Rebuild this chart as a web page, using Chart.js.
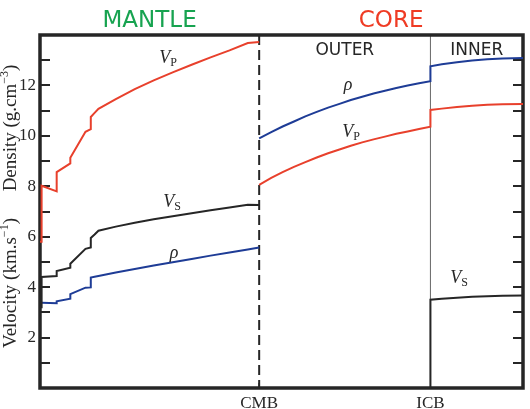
<!DOCTYPE html>
<html>
<head>
<meta charset="utf-8">
<title>PREM</title>
<script src="https://cdn.jsdelivr.net/npm/chart.js@4.4.1/dist/chart.umd.min.js"></script>
<style>
  html, body { margin: 0; padding: 0; background: #fff; }
  #chartContainer { width: 530px; height: 409px; }
</style>
</head>
<body>
<div id="chartContainer"><canvas id="premChart" width="530" height="409"></canvas></div>
<script>
// Boundaries (depth in km)
const boundaryDepths = [2891, 5150];
const boundaryNames = ['CMB', 'ICB'];
const earthRadius = 6371;

// Crust + mantle (density is only drawn from the Moho down)
const mantleDepth = [0, 15, 15, 24.4, 24.4, 220, 220, 400, 400, 600, 670, 670, 720, 771, 1000, 1250, 1500, 1750, 2000, 2250, 2500, 2741, 2891];
const mantleVp = [5.80, 5.80, 6.80, 6.80, 8.02, 7.80, 8.56, 8.91, 9.13, 10.16, 10.27, 10.75, 10.91, 11.07, 11.46, 11.85, 12.20, 12.52, 12.82, 13.11, 13.39, 13.68, 13.72];
const mantleVs = [3.20, 3.20, 3.90, 3.90, 4.40, 4.44, 4.64, 4.77, 4.93, 5.52, 5.57, 5.95, 6.09, 6.24, 6.40, 6.55, 6.69, 6.81, 6.93, 7.05, 7.16, 7.27, 7.26];
const mantleRho = [null, null, null, null, 3.38, 3.36, 3.44, 3.54, 3.72, 3.98, 3.99, 4.38, 4.41, 4.44, 4.58, 4.72, 4.86, 4.99, 5.12, 5.25, 5.37, 5.49, 5.57];

// Outer + inner core
const coreDepth = [2891, 3050, 3200, 3350, 3500, 3650, 3800, 3950, 4100, 4250, 4400, 4550, 4700, 4850, 5000, 5150, 5150, 5300, 5500, 5700, 5900, 6100, 6371];
const coreVp = [8.06, 8.33, 8.56, 8.77, 8.96, 9.14, 9.31, 9.46, 9.61, 9.74, 9.86, 9.97, 10.08, 10.17, 10.27, 10.36, 11.03, 11.08, 11.14, 11.19, 11.23, 11.25, 11.26];
const coreRho = [9.90, 10.15, 10.37, 10.57, 10.77, 10.95, 11.12, 11.27, 11.42, 11.55, 11.68, 11.79, 11.90, 12.00, 12.09, 12.17, 12.76, 12.84, 12.92, 12.99, 13.04, 13.07, 13.09];
const coreVs = [0, 0, 0, 0, 0, 0, 0, 0, 0, 0, 0, 0, 0, 0, 0, 0, 3.50, 3.54, 3.58, 3.62, 3.64, 3.66, 3.67];

// Y axis
const yMin = 0;
const yMax = 14;

// Curve labels: [main, subscript, depth, value]
const curveLabels = [
  ['V', 'P', 1688, 12.89],
  ['ρ', '', 4063, 11.82],
  ['V', 'P', 4102, 9.95],
  ['V', 'S', 1741, 7.18],
  ['ρ', '', 1767, 5.16],
  ['V', 'S', 5527, 4.17]
];

// Colours
const red = '#e8402c';
const blue = '#1e3c96';
const black = '#262626';
const serif = '"Liberation Serif", "Times New Roman", serif';
const sans = '"DejaVu Sans", sans-serif';

function toPoints(depths, values) {
  return depths.map((d, i) => ({ x: d, y: values[i] }));
}

function makeDataset(depths, values, color) {
  return {
    data: toPoints(depths, values),
    borderColor: color,
    borderWidth: 2,
    pointRadius: 0,
    tension: 0,
    fill: false,
    spanGaps: false,
    clip: false
  };
}

// Draw text made of pieces (normal, superscript or subscript), centred at cx
function drawPieces(ctx, pieces, cx, baseline) {
  let total = 0;
  pieces.forEach((p) => {
    ctx.font = p.font;
    p.w = ctx.measureText(p.text).width;
    total += p.w;
  });
  let px = cx - total / 2;
  pieces.forEach((p) => {
    ctx.font = p.font;
    ctx.fillText(p.text, px, baseline + (p.dy || 0));
    px += p.w;
  });
}

const premDecor = {
  id: 'premDecor',
  beforeDatasetsDraw(chart) {
    const { ctx, chartArea: area, scales: { x, y } } = chart;
    ctx.save();

    // ICB thin line
    const icbX = x.getPixelForValue(boundaryDepths[1]);
    ctx.strokeStyle = '#666';
    ctx.lineWidth = 1;
    ctx.beginPath();
    ctx.moveTo(icbX, area.top);
    ctx.lineTo(icbX, area.bottom);
    ctx.stroke();

    // CMB dashed line
    const cmbX = x.getPixelForValue(boundaryDepths[0]);
    ctx.strokeStyle = black;
    ctx.lineWidth = 2;
    ctx.setLineDash([10, 5]);
    ctx.beginPath();
    ctx.moveTo(cmbX, area.top);
    ctx.lineTo(cmbX, area.bottom);
    ctx.stroke();
    ctx.setLineDash([]);

    // Frame
    ctx.lineWidth = 3.5;
    ctx.strokeRect(area.left, area.top, area.right - area.left, area.bottom - area.top);

    // Inward ticks on both sides
    ctx.lineWidth = 2;
    for (let v = yMin + 1; v < yMax; v++) {
      const py = Math.round(y.getPixelForValue(v));
      ctx.beginPath();
      ctx.moveTo(area.left, py);
      ctx.lineTo(area.left + 10, py);
      ctx.moveTo(area.right, py);
      ctx.lineTo(area.right - 10, py);
      ctx.stroke();
    }
    ctx.lineWidth = 1.5;
    ctx.beginPath();
    ctx.moveTo(cmbX, area.bottom);
    ctx.lineTo(cmbX, area.bottom - 5);
    ctx.stroke();
    ctx.restore();
  },
  afterDraw(chart) {
    const { ctx, chartArea: area, scales: { x, y } } = chart;
    const cmbX = x.getPixelForValue(boundaryDepths[0]);
    const icbX = x.getPixelForValue(boundaryDepths[1]);
    ctx.save();
    ctx.textAlign = 'center';
    ctx.textBaseline = 'alphabetic';

    // Region titles
    ctx.font = '23px ' + sans;
    ctx.fillStyle = '#17a350';
    ctx.fillText('MANTLE', (area.left + cmbX) / 2, 27);
    ctx.fillStyle = '#ef3b24';
    ctx.fillText('CORE', (cmbX + area.right) / 2, 27);
    ctx.font = '17px ' + sans;
    ctx.fillStyle = black;
    ctx.fillText('OUTER', (cmbX + icbX) / 2, 55);
    ctx.fillText('INNER', (icbX + area.right) / 2, 55);

    // Curve labels
    ctx.textAlign = 'left';
    curveLabels.forEach(([main, sub, depth, value]) => {
      const pieces = [{ text: main, font: 'italic 18px ' + serif }];
      if (sub) pieces.push({ text: sub, font: '12px ' + serif, dy: 3 });
      drawPieces(ctx, pieces, x.getPixelForValue(depth), y.getPixelForValue(value));
    });

    // Y axis title (rotated)
    ctx.translate(16, 0);
    ctx.rotate(-Math.PI / 2);
    drawPieces(ctx, [
      { text: 'Velocity (km.s', font: '19px ' + serif },
      { text: '−1', font: '12px ' + serif, dy: -8 },
      { text: ')', font: '19px ' + serif }
    ], -283, 0);
    drawPieces(ctx, [
      { text: 'Density (g.cm', font: '19px ' + serif },
      { text: '−3', font: '12px ' + serif, dy: -8 },
      { text: ')', font: '19px ' + serif }
    ], -128, 0);
    ctx.restore();
  }
};

const chartCanvas = document.getElementById('premChart');
new Chart(chartCanvas.getContext('2d'), {
  type: 'line',
  data: {
    datasets: [
      makeDataset(mantleDepth, mantleVp, red),
      makeDataset(mantleDepth, mantleVs, black),
      makeDataset(mantleDepth, mantleRho, blue),
      makeDataset(coreDepth, coreVp, red),
      makeDataset(coreDepth, coreRho, blue),
      makeDataset(coreDepth, coreVs, black)
    ]
  },
  options: {
    responsive: false,
    animation: false,
    events: [],
    layout: { padding: { top: 35, right: 7, left: 0, bottom: 0 } },
    plugins: { legend: { display: false }, tooltip: { enabled: false } },
    scales: {
      x: {
        type: 'linear',
        min: 0,
        max: earthRadius,
        grid: { display: false, drawTicks: false },
        border: { display: false },
        afterBuildTicks: (scale) => {
          scale.ticks = boundaryDepths.map((v) => ({ value: v }));
        },
        afterFit: (scale) => { scale.height = 21; },
        ticks: {
          autoSkip: false,
          maxRotation: 0,
          padding: 5,
          color: black,
          font: { family: serif, size: 17 },
          callback: (v) => boundaryNames[boundaryDepths.indexOf(v)]
        }
      },
      y: {
        type: 'linear',
        min: yMin,
        max: yMax,
        grid: { display: false, drawTicks: false },
        border: { display: false },
        afterFit: (scale) => { scale.width = 40; },
        ticks: {
          stepSize: 1,
          padding: 4,
          color: black,
          font: { family: serif, size: 17 },
          callback: (v) => (v % 2 === 0 && v > yMin && v < yMax ? v : '')
        }
      }
    }
  },
  plugins: [premDecor]
});
</script>
</body>
</html>
